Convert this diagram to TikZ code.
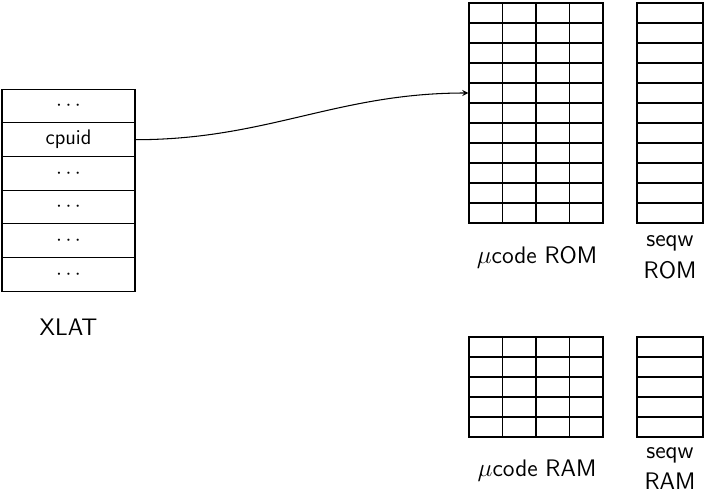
\documentclass[tikz,border=0pt]{standalone}
\usetikzlibrary{positioning}
\begin{document}
\begin{tikzpicture}[
    font=\sffamily\fontsize{12}{17.6}\selectfont,
    line width=0.6pt,
    every node/.style={inner sep=0pt},
    xrow/.style={draw, minimum width=2.66cm, minimum height=0.674cm},
    cell/.style={draw, minimum width=0.67cm, minimum height=0.4cm},
    wcell/.style={draw, minimum width=1.32cm, minimum height=0.4cm},
    lbl/.style={anchor=base, font=\sffamily\fontsize{13.6}{17.6}\selectfont}]
  \useasboundingbox (0,0) rectangle (14.12,-9.92);
  % XLAT table
  \foreach \t [count=\i] in {$\cdots$,cpuid,$\cdots$,$\cdots$,$\cdots$,$\cdots$}
    \node[xrow] (x\i) at (1.37,{-2.12-0.674*(\i-1)}) {\t};
  \node[lbl] (xlat) at (1.37,-6.7) {XLAT};
  % ucode and seqw ROM
  \foreach \r in {1,...,11}{
    \foreach \c in {1,...,4}
      \node[cell] (rom-\r-\c) at ({9.715+0.67*(\c-1)},{-0.26-0.4*(\r-1)}) {};
    \node[wcell] (srom-\r) at (13.4,{-0.26-0.4*(\r-1)}) {};
  }
  \node[lbl] (romlbl) at (10.74,-5.26) {$\mu$code ROM};
  \node[lbl] (sromlbl) at (13.4,-4.93) {seqw};
  \node[lbl] (sromlbl2) at (13.4,-5.56) {ROM};
  % ucode and seqw RAM
  \foreach \r in {1,...,5}{
    \foreach \c in {1,...,4}
      \node[cell] (ram-\r-\c) at ({9.715+0.67*(\c-1)},{-6.94-0.4*(\r-1)}) {};
    \node[wcell] (sram-\r) at (13.4,{-6.94-0.4*(\r-1)}) {};
  }
  \node[lbl] (ramlbl) at (10.74,-9.53) {$\mu$code RAM};
  \node[lbl] (sramlbl) at (13.4,-9.17) {seqw};
  \node[lbl] (sramlbl2) at (13.4,-9.79) {RAM};
  % lookup
  \draw[-stealth] (x2.east) to[out=0,in=180] (rom-5-1.west);
\end{tikzpicture}
\end{document}
